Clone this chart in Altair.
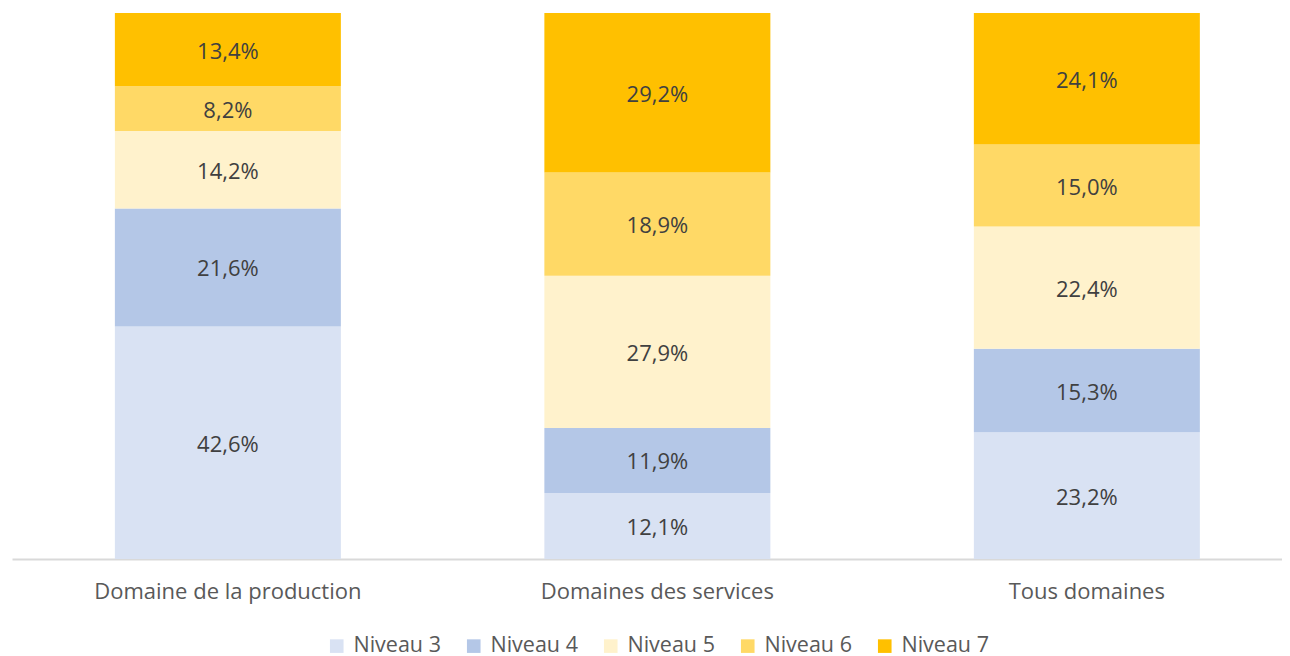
import altair as alt
import pandas as pd

categories = ["Domaine de la production", "Domaines des services", "Tous domaines"]
levels = ["Niveau 3", "Niveau 4", "Niveau 5", "Niveau 6", "Niveau 7"]
colors = ["#D9E2F3", "#B4C7E7", "#FFF2CC", "#FFD966", "#FFC000"]

production = [42.6, 21.6, 14.2, 8.2, 13.4]
services = [12.1, 11.9, 27.9, 18.9, 29.2]
tous = [23.2, 15.3, 22.4, 15.0, 24.1]

rows = []
for cat, vals in zip(categories, [production, services, tous]):
    for i, (lvl, v) in enumerate(zip(levels, vals)):
        rows.append({"cat": cat, "niveau": lvl, "ordre": i, "value": v,
                     "label": f"{v:.1f}%".replace(".", ",")})
df = pd.DataFrame(rows)

FONT = "Open Sans"

base = alt.Chart(df).transform_stack(
    stack="value", groupby=["cat"], as_=["y0", "y1"],
    sort=[alt.SortField("ordre", order="ascending")]
).transform_calculate(ymid="(datum.y0 + datum.y1) / 2")

xenc = alt.X("cat:N", sort=categories, title=None,
             scale=alt.Scale(paddingInner=0.474, paddingOuter=0.2155, align=0.556),
             axis=alt.Axis(labelAngle=0, ticks=False, domainColor="#D9D9D9",
                           domainWidth=2, labelFontSize=22, labelColor="#595959",
                           labelFont=FONT, labelPadding=22, labelLimit=0, grid=False))
yscale = alt.Scale(domain=[0, 100], nice=False)

bars = base.mark_bar(size=226).encode(
    x=xenc,
    y=alt.Y("y0:Q", scale=yscale, axis=None),
    y2="y1:Q",
    color=alt.Color("niveau:N", sort=levels,
                    scale=alt.Scale(domain=levels, range=colors),
                    legend=alt.Legend(title=None, orient="none", direction="horizontal",
                                      legendX=314, legendY=622,
                                      symbolType="square", symbolSize=185,
                                      symbolStrokeWidth=0, labelFontSize=21.5,
                                      labelColor="#595959", labelFont=FONT,
                                      columnPadding=22, symbolOffset=0,
                                      labelOffset=6)),
)

texts = base.mark_text(fontSize=22, color="#404040", font=FONT, dy=2).encode(
    x=alt.X("cat:N", sort=categories),
    y=alt.Y("ymid:Q", scale=yscale),
    text="label:N",
)

chart = (bars + texts).properties(
    width=1270, height=546,
    padding={"left": 4, "top": 4, "right": 0, "bottom": 2},
    background="white",
).configure_view(strokeWidth=0, stroke=None)

chart.save("out.html", embed_options={"renderer": "svg", "actions": False})
